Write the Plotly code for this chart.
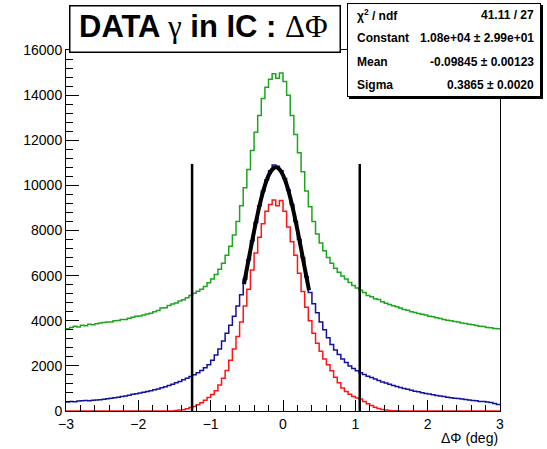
import plotly.graph_objects as go

# ---------------- data ----------------
x_lo, x_hi, bin_w = -3.0, 3.0, 0.05
edges = [round(x_lo + i * bin_w, 4) for i in range(121)]

green = [
    3650, 3700, 3760, 3720, 3800, 3780, 3840, 3820, 3870, 3900,
    3920, 3950, 3940, 4000, 4010, 4060, 4050, 4110, 4160, 4200,
    4210, 4250, 4300, 4330, 4400, 4450, 4560, 4580, 4680, 4740,
    4790, 4880, 4930, 5020, 5120, 5220, 5310, 5400, 5520, 5680,
    5850, 6050, 6280, 6550, 6900, 7300, 7800, 8400, 9100, 9900,
    10700, 11550, 12350, 13100, 13850, 14350, 14700, 14950, 14750, 14980,
    14600, 14000, 13100, 12250, 11450, 10600, 9750, 9050, 8400, 7850,
    7450, 7100, 6800, 6550, 6330, 6150, 5980, 5850, 5700, 5560,
    5450, 5350, 5250, 5120, 5060, 4980, 4940, 4840, 4780, 4720,
    4660, 4620, 4560, 4500, 4470, 4400, 4370, 4320, 4290, 4250,
    4200, 4180, 4130, 4100, 4060, 4020, 4000, 3970, 3940, 3900,
    3880, 3840, 3820, 3790, 3760, 3740, 3700, 3690, 3660, 3640,
]

blue = [
    400, 420, 410, 440, 450, 460, 450, 480, 490, 500,
    520, 540, 560, 590, 610, 640, 670, 700, 740, 770,
    800, 830, 860, 900, 940, 980, 1030, 1080, 1130, 1190,
    1250, 1310, 1380, 1450, 1530, 1610, 1700, 1800, 1920, 2050,
    2250, 2480, 2750, 3100, 3450, 3800, 4200, 4650, 5150, 5850,
    6700, 7550, 8350, 9100, 9750, 10250, 10650, 10900, 10850, 10650,
    10300, 9800, 9150, 8400, 7600, 6800, 5950, 5250, 4750, 4350,
    3950, 3600, 3250, 2950, 2700, 2500, 2300, 2150, 2000, 1880,
    1780, 1700, 1620, 1540, 1480, 1420, 1350, 1290, 1240, 1190,
    1130, 1090, 1040, 1000, 960, 920, 880, 850, 810, 780,
    750, 720, 690, 660, 640, 610, 590, 570, 550, 530,
    510, 490, 470, 450, 420, 420, 400, 380, 330, 290,
]

red = [
    0, 0, 0, 0, 0, 0, 0, 0, 0, 0,
    0, 0, 0, 0, 0, 0, 0, 0, 0, 0,
    0, 0, 0, 0, 0, 0, 0, 0, 0, 0,
    20, 40, 60, 100, 150, 200, 280, 370, 480, 600,
    730, 900, 1150, 1450, 1800, 2250, 2750, 3300, 3950, 4650,
    5400, 6250, 7000, 7700, 8300, 8850, 9150, 9350, 9100, 9330,
    8850, 8150, 7500, 6900, 6100, 5300, 4600, 4000, 3450, 3000,
    2650, 2300, 2050, 1780, 1500, 1250, 1020, 860, 740, 640,
    580, 530, 420, 320, 240, 170, 110, 70, 40, 20,
    15, 10, 5, 0, 0, 0, 0, 0, 0, 0,
    0, 0, 0, 0, 0, 0, 0, 0, 0, 0,
    0, 0, 0, 0, 0, 0, 0, 0, 0, 0,
]

fit_x = [-0.54, -0.50, -0.45, -0.40, -0.35, -0.30, -0.25, -0.20, -0.15, -0.10,
         -0.05, 0.00, 0.05, 0.10, 0.15, 0.20, 0.25, 0.30, 0.36]
fit_y = [5625, 6296, 7142, 7966, 8739, 9427, 10002, 10434, 10705, 10800,
         10715, 10455, 10032, 9465, 8784, 8015, 7193, 6347, 5344]

cut_x = [-1.257, 1.061]
cut_top = 10950

stat_labels = ["χ<sup>2</sup> / ndf", "Constant", "Mean", "Sigma"]
stat_values = ["41.11 / 27", "1.08e+04 ± 2.99e+01", "-0.09845 ± 0.00123", "0.3865 ± 0.0020"]
x_title = "ΔΦ (deg)"

# ---------------- figure ----------------
W, H = 547, 449
L, R, T, B = 66, 47, 50, 38
pw, ph = W - L - R, H - T - B


def px(xp):
    return (xp - L) / pw


def py(yp):
    return (H - B - yp) / ph


fig = go.Figure()

for vals, col in [(green, "#1ea51e"), (blue, "#12129e"), (red, "#ff1414")]:
    fig.add_trace(go.Scatter(x=edges, y=vals + [vals[-1]], mode="lines",
                             line=dict(color=col, width=1.5, shape="hv"),
                             hoverinfo="skip"))

fig.add_trace(go.Scatter(x=fit_x, y=fit_y, mode="lines",
                         line=dict(color="black", width=4, shape="spline")))

for cx in cut_x:
    fig.add_trace(go.Scatter(x=[cx, cx], y=[0, cut_top], mode="lines",
                             line=dict(color="black", width=2.5)))

font_main = "Liberation Sans, Arial, Helvetica, sans-serif"
serif = "Liberation Serif, Times New Roman, serif"
tf = dict(size=14, family=font_main, color="black")

fig.update_layout(
    width=W, height=H,
    margin=dict(l=L, r=R, t=T, b=B),
    plot_bgcolor="white",
    showlegend=False,
)
fig.update_xaxes(range=[-3, 3], dtick=1,
                 ticks="inside", ticklen=11, tickwidth=1, tickcolor="black",
                 minor=dict(ticks="inside", ticklen=6, dtick=0.2, tickcolor="black", tickwidth=1),
                 showline=True, linecolor="black", mirror=True, tickfont=tf)
fig.update_yaxes(range=[0, 16000], dtick=2000, tickformat="d",
                 ticks="inside", ticklen=13, tickwidth=1, tickcolor="black",
                 minor=dict(ticks="inside", ticklen=7, dtick=400, tickcolor="black", tickwidth=1),
                 showline=True, linecolor="black", mirror=True, tickfont=tf)

dx, dy = "x domain", "y domain"

# boxes as bordered blank annotations (title box, stats shadow, stats box)
fig.add_annotation(xref="paper", yref="paper", x=px(204.5), y=py(28.5),
                   xanchor="center", yanchor="middle", showarrow=False, text=" ",
                   width=269, height=45, bgcolor="white", bordercolor="black",
                   borderwidth=1.5, borderpad=0)
fig.add_annotation(xref="paper", yref="paper", x=px(446), y=py(52),
                   xanchor="center", yanchor="middle", showarrow=False, text=" ",
                   width=192, height=92, bgcolor="black", bordercolor="black",
                   borderwidth=1, borderpad=0)
fig.add_annotation(xref="paper", yref="paper", x=px(444), y=py(50),
                   xanchor="center", yanchor="middle", showarrow=False, text=" ",
                   width=192, height=92, bgcolor="white", bordercolor="black",
                   borderwidth=1, borderpad=0)

fig.add_annotation(xref="paper", yref="paper", x=px(203), y=py(27),
                   xanchor="center", yanchor="middle", showarrow=False,
                   text=("<b>DATA </b><span style='font-family:" + serif + "'>γ</span>"
                         "<b> in IC : </b><span style='font-family:" + serif + "'>ΔΦ</span>"),
                   font=dict(size=31, family=font_main, color="black"))
row_y = [15, 38.5, 62, 85]
for lab, val, yy in zip(stat_labels, stat_values, row_y):
    fig.add_annotation(xref="paper", yref="paper", x=px(355), y=py(yy),
                       xanchor="left", yanchor="middle", showarrow=False,
                       text="<b>" + lab + "</b>",
                       font=dict(size=12, family=font_main, color="black"))
    fig.add_annotation(xref="paper", yref="paper", x=px(536), y=py(yy),
                       xanchor="right", yanchor="middle", showarrow=False,
                       text="<b>" + val + "</b>",
                       font=dict(size=12, family=font_main, color="black"))
fig.add_annotation(xref="paper", yref="paper", x=px(500), y=py(438),
                   xanchor="right", yanchor="middle", showarrow=False,
                   text=x_title, font=dict(size=14, family=font_main, color="black"))

fig.write_html("out.html")
